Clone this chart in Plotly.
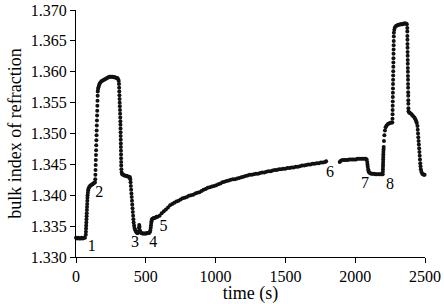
import plotly.graph_objects as go

# time (s) and bulk refractive index
time_s = [
    0, 8, 16, 24, 32, 40, 48, 56, 64,
    70, 71, 72, 73, 74, 75, 76, 77, 78, 79, 80, 81, 82, 83, 85, 87, 90,
    94, 100, 106, 112, 118, 124, 130, 136,
    138, 139, 140, 141, 142, 143, 144, 145, 146, 147, 148, 149, 150, 151, 152, 153, 154, 155, 156,
    158, 161, 165, 170, 176,
    184, 192, 200, 208, 216, 224, 232, 240, 248, 256, 264, 272, 280, 288, 296, 302, 306,
    308, 309, 310, 311, 312, 313, 314, 315, 316, 317, 318, 318.5, 319, 319.5, 320, 320.5,
    321, 321.5, 322, 322.5, 323, 323.5, 324, 325, 327,
    331, 338, 345, 352, 359, 366, 373, 380, 386,
    389, 391, 393, 395, 397, 399, 401, 403, 405, 407, 409, 411, 413, 416, 419, 423, 428, 433,
    438, 443, 448, 451, 453, 455, 458, 462, 468, 475, 482, 489, 496, 503, 510, 517, 523, 528,
    532, 535, 537, 539, 541, 544, 549, 556, 563, 570, 577,
    584, 599, 614, 629, 644, 659, 674, 689, 704, 719, 734, 749, 764, 779, 794, 809, 824, 839,
    854, 869, 884, 899, 914, 929, 944, 959, 974, 989, 1004, 1019, 1034, 1049, 1064, 1079,
    1094, 1109, 1124, 1139, 1154, 1169, 1184, 1199, 1214, 1229, 1244, 1259, 1274, 1289,
    1304, 1319, 1334, 1349, 1364, 1379, 1394, 1409, 1424, 1439, 1454, 1469, 1484, 1499,
    1514, 1529, 1544, 1559, 1574, 1589, 1604, 1619, 1634, 1649, 1664, 1679, 1694, 1709,
    1724, 1739, 1754, 1769, 1784, 1792,
    1889, 1897, 1909, 1921, 1933, 1945, 1957, 1969, 1981, 1993, 2005, 2017, 2029, 2041,
    2053, 2065, 2075, 2082,
    2086, 2088, 2090, 2093, 2096, 2100, 2106,
    2114, 2124, 2134, 2144, 2154, 2164, 2174, 2184, 2192, 2197,
    2198, 2198.5, 2199, 2199.5, 2200, 2200.5, 2201, 2201.5, 2202, 2203, 2204,
    2206, 2209, 2213, 2218, 2225, 2233, 2241, 2250, 2258, 2266,
    2267, 2267.5, 2268, 2268.5, 2269, 2269.5, 2270, 2270.5, 2271, 2271.5, 2272, 2272.5,
    2273, 2273.5, 2274, 2274.5, 2275, 2275.5, 2276, 2276.5, 2277,
    2280, 2285, 2292, 2300, 2308, 2316, 2324, 2332, 2340, 2348, 2356, 2364, 2370,
    2373, 2373.4, 2373.8, 2374.2, 2374.6, 2375, 2375.4, 2375.8, 2376.2, 2376.6, 2377,
    2377.4, 2377.8, 2378.2, 2378.6, 2379, 2379.4, 2379.8, 2380.2, 2380.6, 2381,
    2382, 2386, 2392, 2400, 2408, 2416, 2424, 2431, 2437, 2441,
    2446, 2448, 2450, 2452, 2454, 2456, 2458, 2460, 2462, 2464, 2466, 2468, 2470,
    2474, 2480, 2486, 2492, 2497,
]

refractive_index = [
    1.3331, 1.3330, 1.3331, 1.3330, 1.3330, 1.3331, 1.3330, 1.3331, 1.3331,
    1.3336, 1.3341, 1.3346, 1.3351, 1.3356, 1.3361, 1.3366, 1.3371, 1.3376, 1.3381, 1.3386,
    1.3391, 1.3396, 1.3400, 1.3404, 1.3408, 1.3411,
    1.3413, 1.3415, 1.3416, 1.3417, 1.3418, 1.3419, 1.3420, 1.3421,
    1.3426, 1.3433, 1.3441, 1.3449, 1.3457, 1.3465, 1.3473, 1.3481, 1.3489, 1.3497, 1.3505,
    1.3513, 1.3521, 1.3529, 1.3537, 1.3545, 1.3553, 1.3561, 1.3568,
    1.3572, 1.3575, 1.3578, 1.3581, 1.3583,
    1.3585, 1.3586, 1.3587, 1.3588, 1.3589, 1.3590, 1.3591, 1.3592, 1.3592, 1.3592, 1.3592,
    1.3591, 1.3591, 1.3590, 1.3590, 1.3588, 1.3585,
    1.3580, 1.3574, 1.3568, 1.3562, 1.3556, 1.3550, 1.3544, 1.3538, 1.3532, 1.3526, 1.3520,
    1.3514, 1.3508, 1.3502, 1.3496, 1.3490, 1.3484, 1.3478, 1.3472, 1.3466, 1.3460, 1.3454,
    1.3448, 1.3442, 1.3437,
    1.3434, 1.3433, 1.3432, 1.3432, 1.3431, 1.3431, 1.3430, 1.3430, 1.3429,
    1.3426, 1.3421, 1.3415, 1.3409, 1.3403, 1.3397, 1.3391, 1.3385, 1.3379, 1.3373, 1.3367,
    1.3361, 1.3356, 1.3351, 1.3347, 1.3344, 1.3342, 1.3340,
    1.3339, 1.3339, 1.3341, 1.3347, 1.3352, 1.3349, 1.3343, 1.3340, 1.3339, 1.3338, 1.3338,
    1.3338, 1.3338, 1.3338, 1.3339, 1.3339, 1.3339, 1.3340,
    1.3343, 1.3347, 1.3351, 1.3355, 1.3358, 1.3361, 1.3362, 1.3363, 1.3363, 1.3364, 1.3365,
    1.3365, 1.3367, 1.3371, 1.3374, 1.3377, 1.3380, 1.3384, 1.3386, 1.3388, 1.3390, 1.3391,
    1.3393, 1.3395, 1.3396, 1.3397, 1.3399, 1.3400, 1.3401,
    1.3403, 1.3404, 1.3405, 1.3407, 1.3409, 1.3410, 1.3412, 1.3413, 1.3414, 1.3415, 1.3416,
    1.3418, 1.3419, 1.3421, 1.3422, 1.3423,
    1.3424, 1.3425, 1.3426, 1.3426, 1.3427, 1.3428, 1.3429, 1.3430, 1.3431, 1.3432, 1.3433,
    1.3433, 1.3434, 1.3435,
    1.3435, 1.3436, 1.3437, 1.3437, 1.3438, 1.3439, 1.3439, 1.3440, 1.3441, 1.3441, 1.3442,
    1.3442, 1.3443, 1.3443,
    1.3444, 1.3444, 1.3445, 1.3445, 1.3446, 1.3446, 1.3447, 1.3448, 1.3448, 1.3449, 1.3450,
    1.3450, 1.3451, 1.3451,
    1.3452, 1.3452, 1.3453, 1.3453, 1.3454, 1.3455,
    1.3454, 1.3456, 1.3457, 1.3457, 1.3457, 1.3457, 1.3458, 1.3458, 1.3458, 1.3458, 1.3458,
    1.3459, 1.3459, 1.3459, 1.3459, 1.3459, 1.3459, 1.3458,
    1.3454, 1.3450, 1.3446, 1.3442, 1.3439, 1.3437, 1.3436,
    1.3435, 1.3435, 1.3435, 1.3434, 1.3434, 1.3434, 1.3434, 1.3434, 1.3434, 1.3434,
    1.3438, 1.3442, 1.3446, 1.3450, 1.3454, 1.3458, 1.3462, 1.3466, 1.3470, 1.3474, 1.3478,
    1.3488, 1.3497, 1.3505, 1.3510, 1.3513, 1.3515, 1.3516, 1.3517, 1.3518, 1.3518,
    1.3524, 1.3531, 1.3538, 1.3545, 1.3552, 1.3559, 1.3566, 1.3573, 1.3580, 1.3587, 1.3594,
    1.3601, 1.3608, 1.3615, 1.3622, 1.3629, 1.3636, 1.3643, 1.3650, 1.3657, 1.3663,
    1.3668, 1.3672, 1.3674, 1.3675, 1.3676, 1.3676, 1.3677, 1.3677, 1.3677, 1.3678, 1.3678,
    1.3678, 1.3677,
    1.3671, 1.3665, 1.3658, 1.3652, 1.3645, 1.3639, 1.3632, 1.3626, 1.3619, 1.3613, 1.3606,
    1.3600, 1.3593, 1.3587, 1.3580, 1.3574, 1.3567, 1.3561, 1.3554, 1.3548, 1.3541,
    1.3536, 1.3534, 1.3533, 1.3532, 1.3530, 1.3528, 1.3526, 1.3523, 1.3520, 1.3517,
    1.3512, 1.3506, 1.3500, 1.3494, 1.3488, 1.3482, 1.3476, 1.3470, 1.3464, 1.3458, 1.3452,
    1.3447, 1.3442,
    1.3438, 1.3435, 1.3434, 1.3433, 1.3433,
]

# step labels
label_text = ["1", "2", "3", "4", "5", "6", "7", "8"]
label_time = [113, 166, 423, 554, 626, 1820, 2070, 2249]
label_index = [1.3317, 1.3403, 1.3322, 1.3322, 1.3349, 1.3436, 1.3419, 1.3417]

x_ticks = [0, 500, 1000, 1500, 2000, 2500]
y_ticks = [1.330, 1.335, 1.340, 1.345, 1.350, 1.355, 1.360, 1.365, 1.370]

FONT = "Liberation Serif"

fig = go.Figure()
fig.add_trace(go.Scatter(
    x=time_s, y=refractive_index, mode="markers",
    marker=dict(color="#111111", size=4, line=dict(width=0)),
    cliponaxis=False, showlegend=False, hoverinfo="skip",
))
fig.add_trace(go.Scatter(
    x=label_time, y=label_index, mode="text", text=label_text,
    textfont=dict(family=FONT, size=16, color="black"),
    cliponaxis=False, showlegend=False, hoverinfo="skip",
))

axis_common = dict(
    showline=True, linecolor="black", linewidth=1, showgrid=False, zeroline=False,
    ticks="outside", ticklen=5, tickwidth=1, tickcolor="black",
    tickfont=dict(family=FONT, size=16, color="black"),
    automargin=False,
)
fig.update_xaxes(
    range=[0, 2500], tickvals=x_ticks, ticktext=[str(v) for v in x_ticks],
    title=dict(text="time (s)", font=dict(family=FONT, size=18, color="black"), standoff=2),
    **axis_common,
)
fig.update_yaxes(
    range=[1.330, 1.370], tickvals=y_ticks, ticktext=[f"{v:.3f}" for v in y_ticks],
    title=dict(text="bulk index of refraction", font=dict(family=FONT, size=18, color="black"), standoff=4),
    **axis_common,
)
fig.update_layout(
    width=444, height=304,
    margin=dict(l=76, r=19, t=10, b=47),
    paper_bgcolor="white", plot_bgcolor="white",
    font=dict(family=FONT, color="black"),
)
fig.write_html(
    "out.html",
    config={"displayModeBar": False, "staticPlot": True},
    post_script="document.body.style.margin='0px';document.body.style.overflow='hidden';",
)
